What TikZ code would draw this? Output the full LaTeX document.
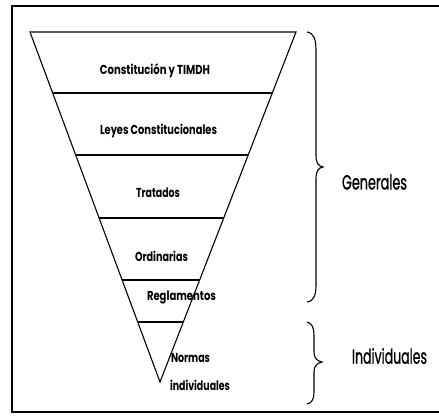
\documentclass[tikz,border=0pt]{standalone}
\usepackage{fontspec}
\setmainfont{Poppins}
\newfontfamily\sidefont{Poppins}[FakeBold=1.2]
\usetikzlibrary{calc}
\newcommand{\fitw}[2]{\resizebox{#1pt}{\height}{#2}}
\begin{document}
\begin{tikzpicture}[x=1pt,y=-1pt,
  shape line/.style={line width=1.1pt},
  lab/.style={inner sep=0pt, font=\fontsize{13}{15}\selectfont\bfseries},
  side/.style={inner sep=0pt, font=\sidefont\fontsize{20.5}{22}\selectfont}]
\useasboundingbox (0,0) rectangle (439,415);
% frame
\draw[line width=1.6pt] (439,6) -- (12,6) -- (12,412) -- (439,412);
% inverted triangle
\coordinate (tl) at (30,32);
\coordinate (tr) at (296,32);
\coordinate (ap) at (160,382);
\draw[shape line] (tl) -- (tr) -- (ap) -- cycle;
% dividing lines
\foreach \yy [count=\i] in {93,155,218,280,322}{
  \draw[shape line] ($(tl)!{(\yy-32)/350}!(ap)$) -- ($(tr)!{(\yy-32)/350}!(ap)$);
}
% labels
\node[lab] (c1) at (155,71) {\fitw{110}{Constitución y TIMDH}};
\node[lab] (c2) at (158.5,131) {\fitw{117}{Leyes Constitucionales}};
\node[lab] (c3) at (158,193) {\fitw{44}{Tratados}};
\node[lab] (c4) at (161.5,256) {\fitw{53}{Ordinarias}};
\node[lab] (c5) at (181.5,297) {\fitw{69}{Reglamentos}};
\node[lab] (c6) at (190.5,358) {\fitw{39}{Normas}};
\node[lab] (c7) at (200,385) {\fitw{60}{individuales}};
% braces
\draw[line width=1.1pt] (307,32) .. controls (314,33) and (316,40) .. (316,50) -- (316,155)
  .. controls (316,163) and (318,166) .. (323,167)
  .. controls (318,168) and (316,171) .. (316,179) -- (316,285)
  .. controls (316,295) and (314,301) .. (307,302);
\draw[line width=1.1pt] (307,322) .. controls (312,323) and (314,328) .. (314,335) -- (314,352)
  .. controls (314,358) and (317,361) .. (322,362)
  .. controls (317,363) and (314,366) .. (314,372) -- (314,392)
  .. controls (314,399) and (312,403) .. (307,404);
\node[side] (g) at (374.5,182) {\fitw{65}{Generales}};
\node[side] (ind) at (389.5,356) {\fitw{75}{Individuales}};
\end{tikzpicture}
\end{document}
